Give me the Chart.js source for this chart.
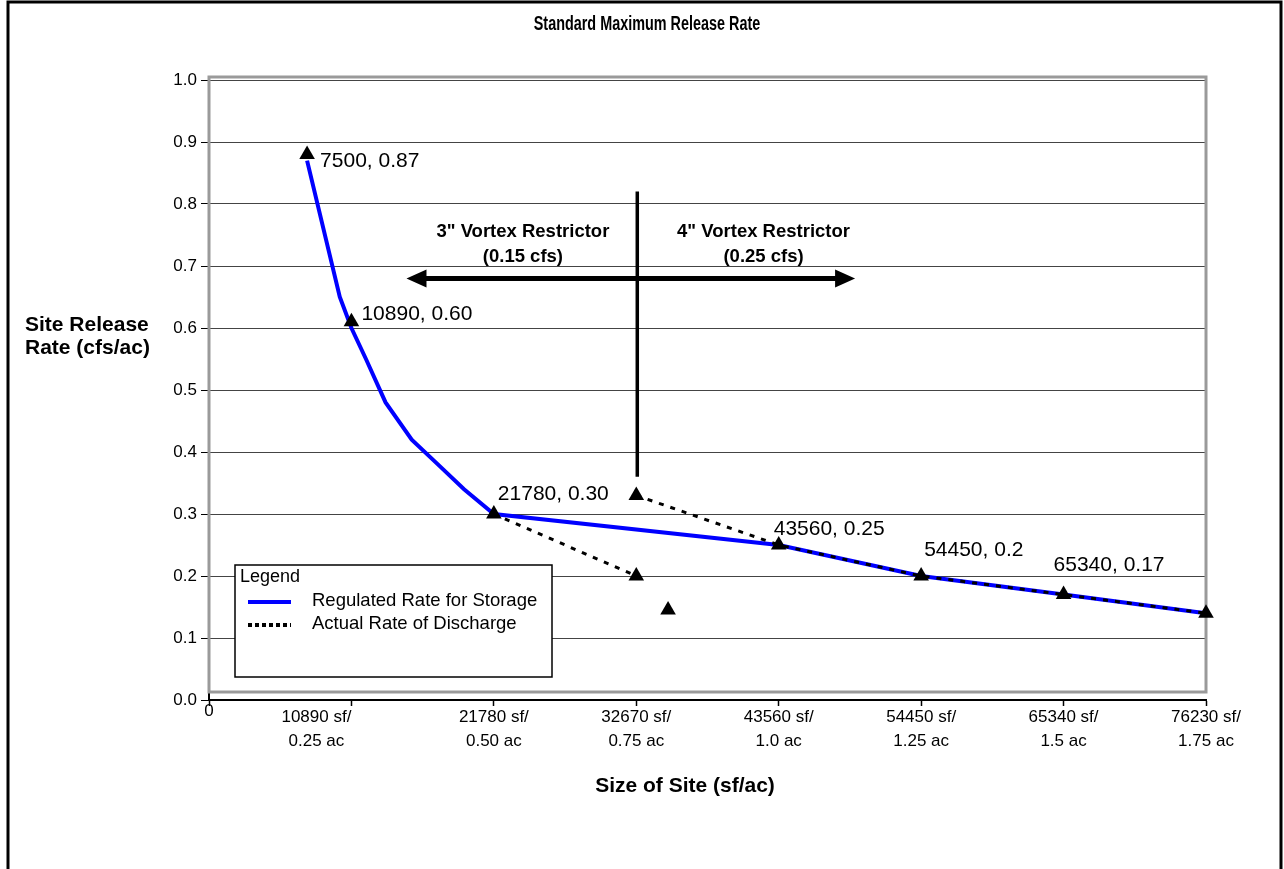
<!DOCTYPE html>
<html>
<head>
<meta charset="utf-8">
<title>Standard Maximum Release Rate</title>
<script src="https://cdn.jsdelivr.net/npm/chart.js@4.4.1/dist/chart.umd.min.js"></script>
<style>
  html, body { margin: 0; padding: 0; background: #fff; }
  #wrap { width: 1284px; height: 869px; }
</style>
</head>
<body>
<div id="wrap"><canvas id="releaseChart" width="1284" height="869"></canvas></div>
<script>
// Regulated rate for storage (blue curve)
const regSize = [7500, 10000, 10890, 12000, 13500, 15500, 17500, 19500, 21780, 43560, 54450, 65340, 76230];
const regRate = [0.87, 0.65, 0.60, 0.55, 0.48, 0.42, 0.38, 0.34, 0.30, 0.25, 0.20, 0.17, 0.14];

// Actual rate of discharge (dotted), null splits it in two pieces
const actSize = [21780, 32670, 32670, 32670, 43560, 54450, 65340, 76230];
const actRate = [0.30, 0.20, null, 0.33, 0.25, 0.20, 0.17, 0.14];

// Triangle markers
const markSize = [7500, 10890, 21780, 32670, 32670, 35100, 43560, 54450, 65340, 76230];
const markRate = [0.88, 0.61, 0.30, 0.33, 0.20, 0.145, 0.25, 0.20, 0.17, 0.14];

// Point labels
const labelSize = [7500, 10890, 21780, 43560, 54450, 65340];
const labelRate = [0.87, 0.60, 0.30, 0.25, 0.20, 0.17];
const labelText = ['7500, 0.87', '10890, 0.60', '21780, 0.30', '43560, 0.25', '54450, 0.2', '65340, 0.17'];

// Axis ticks
const xTicks = [0, 10890, 21780, 32670, 43560, 54450, 65340, 76230];
const xTickLabels = [['0'], ['10890 sf/', '0.25 ac'], ['21780 sf/', '0.50 ac'], ['32670 sf/', '0.75 ac'],
  ['43560 sf/', '1.0 ac'], ['54450 sf/', '1.25 ac'], ['65340 sf/', '1.5 ac'], ['76230 sf/', '1.75 ac']];
const yTicks = [0, 0.1, 0.2, 0.3, 0.4, 0.5, 0.6, 0.7, 0.8, 0.9, 1.0];
const yTickLabels = ['0.0', '0.1', '0.2', '0.3', '0.4', '0.5', '0.6', '0.7', '0.8', '0.9', '1.0'];

// Restrictor annotation
const dividerSize = 32670;
const dividerRates = [0.36, 0.82];
const arrowSizes = [15100, 49400];
const arrowRate = 0.68;
const regionSize = [24000, 42400];
const regionRate = 0.735;
const regionText = [['3" Vortex Restrictor', '(0.15 cfs)'], ['4" Vortex Restrictor', '(0.25 cfs)']];

// layout only: px offsets of texts
const labelOffset = [[13, 1], [10, -14], [4, -20], [-5, -16], [3, -26], [-10, -29]];
const xLabelShift = [0, -35, 0, 0, 0, 0, 0, 0];

const FONT = '"Liberation Sans", Arial, sans-serif';
Chart.defaults.font.family = FONT;
Chart.defaults.color = '#000';

const toPoints = (xs, ys) => xs.map((x, i) => ({ x: x, y: ys[i] }));

const decor = {
  id: 'decor',
  beforeDatasetsDraw(chart) {
    const { ctx, chartArea: a } = chart;
    ctx.save();
    ctx.strokeStyle = '#9a9a9a';
    ctx.lineWidth = 3;
    ctx.strokeRect(a.left, a.top - 3, a.right - a.left, a.bottom - a.top - 5);
    ctx.restore();
  },
  afterDatasetsDraw(chart) {
    const { ctx, chartArea: a } = chart;
    const xs = chart.scales.x, ys = chart.scales.y;
    ctx.save();

    // vertical divider
    const dx = xs.getPixelForValue(dividerSize) + 1;
    ctx.strokeStyle = '#000';
    ctx.lineWidth = 3.5;
    ctx.beginPath();
    ctx.moveTo(dx, ys.getPixelForValue(dividerRates[1]));
    ctx.lineTo(dx, ys.getPixelForValue(dividerRates[0]));
    ctx.stroke();

    // double arrow
    const ay = ys.getPixelForValue(arrowRate);
    const ax1 = xs.getPixelForValue(arrowSizes[0]);
    const ax2 = xs.getPixelForValue(arrowSizes[1]);
    const head = 20, hw = 9;
    ctx.lineWidth = 5;
    ctx.beginPath();
    ctx.moveTo(ax1 + head - 2, ay);
    ctx.lineTo(ax2 - head + 2, ay);
    ctx.stroke();
    ctx.fillStyle = '#000';
    ctx.beginPath();
    ctx.moveTo(ax1, ay); ctx.lineTo(ax1 + head, ay - hw); ctx.lineTo(ax1 + head, ay + hw); ctx.closePath();
    ctx.moveTo(ax2, ay); ctx.lineTo(ax2 - head, ay - hw); ctx.lineTo(ax2 - head, ay + hw); ctx.closePath();
    ctx.fill();

    // restrictor text
    ctx.font = 'bold 18.5px ' + FONT;
    ctx.textAlign = 'center';
    ctx.textBaseline = 'middle';
    regionText.forEach((lines, i) => {
      const cx = xs.getPixelForValue(regionSize[i]);
      const cy = ys.getPixelForValue(regionRate);
      ctx.fillText(lines[0], cx, cy - 12);
      ctx.fillText(lines[1], cx, cy + 13);
    });

    // point labels
    ctx.font = '21px ' + FONT;
    ctx.textAlign = 'left';
    labelText.forEach((t, i) => {
      const px = xs.getPixelForValue(labelSize[i]) + labelOffset[i][0];
      const py = ys.getPixelForValue(labelRate[i]) + labelOffset[i][1];
      ctx.fillText(t, px, py);
    });

    // legend box
    const lx = a.left + 26, ly = a.bottom - 135, lw = 317, lh = 112;
    ctx.fillStyle = '#fff';
    ctx.fillRect(lx, ly, lw, lh);
    ctx.strokeStyle = '#000';
    ctx.lineWidth = 1.5;
    ctx.strokeRect(lx, ly, lw, lh);
    ctx.fillStyle = '#000';
    ctx.font = '18px ' + FONT;
    ctx.fillText('Legend', lx + 5, ly + 12);
    const entries = [chart.data.datasets[2], chart.data.datasets[1]];
    ctx.font = '18.5px ' + FONT;
    entries.forEach((ds, i) => {
      const ey = ly + 37 + i * 23;
      ctx.strokeStyle = ds.borderColor;
      ctx.lineWidth = 4;
      ctx.setLineDash(ds.borderDash ? [4, 3] : []);
      ctx.beginPath();
      ctx.moveTo(lx + 13, ey);
      ctx.lineTo(lx + 56, ey);
      ctx.stroke();
      ctx.setLineDash([]);
      ctx.fillText(ds.label, lx + 77, ey - 1);
    });
    ctx.restore();
  },
  afterDraw(chart) {
    const { ctx, chartArea: a, height } = chart;
    const xs = chart.scales.x;
    ctx.save();
    // outer frame
    ctx.strokeStyle = '#000';
    ctx.lineWidth = 3;
    ctx.beginPath();
    ctx.moveTo(8, height);
    ctx.lineTo(8, 2);
    ctx.lineTo(1281, 2);
    ctx.lineTo(1281, height);
    ctx.stroke();

    ctx.fillStyle = '#000';
    ctx.textBaseline = 'middle';
    ctx.textAlign = 'center';

    // x tick labels (two lines each)
    ctx.font = '17px ' + FONT;
    xTickLabels.forEach((lines, i) => {
      const px = xs.getPixelForValue(xTicks[i]) + xLabelShift[i];
      const top = lines.length === 1 ? a.bottom + 11 : a.bottom + 17;
      lines.forEach((t, j) => ctx.fillText(t, px, top + j * 24));
    });

    // chart title (narrow)
    ctx.save();
    ctx.translate(647, 24);
    ctx.scale(0.72, 1);
    ctx.font = 'bold 20px ' + FONT;
    ctx.fillText('Standard Maximum Release Rate', 0, 0);
    ctx.restore();

    ctx.font = 'bold 21px ' + FONT;
    ctx.textAlign = 'left';
    ctx.fillText('Site Release', 25, 325);
    ctx.fillText('Rate (cfs/ac)', 25, 348);

    ctx.textAlign = 'center';
    ctx.fillText('Size of Site (sf/ac)', 685, 786);
    ctx.restore();
  }
};

const ctx = document.getElementById('releaseChart').getContext('2d');
new Chart(ctx, {
  type: 'line',
  data: {
    datasets: [
      {
        label: 'Markers',
        data: toPoints(markSize, markRate),
        showLine: false,
        pointStyle: 'triangle',
        pointRadius: 9,
        pointBackgroundColor: '#000',
        pointBorderColor: '#000',
        pointBorderWidth: 0,
        clip: false,
        order: 0
      },
      {
        label: 'Actual Rate of Discharge',
        data: toPoints(actSize, actRate),
        borderColor: '#000',
        borderWidth: 3,
        borderDash: [5, 7],
        pointRadius: 0,
        spanGaps: false,
        fill: false,
        order: 1
      },
      {
        label: 'Regulated Rate for Storage',
        data: toPoints(regSize, regRate),
        borderColor: '#0000ff',
        borderWidth: 4,
        pointRadius: 0,
        fill: false,
        order: 2
      }
    ]
  },
  options: {
    responsive: false,
    animation: false,
    devicePixelRatio: 1,
    layout: { padding: { left: 0, right: 78, top: 80, bottom: 0 } },
    plugins: {
      legend: { display: false },
      tooltip: { enabled: false },
      title: { display: false }
    },
    scales: {
      x: {
        type: 'linear',
        min: 0,
        max: 76230,
        afterBuildTicks: s => { s.ticks = xTicks.map(v => ({ value: v })); },
        afterFit: s => { s.height = 169; },
        ticks: { display: false },
        grid: { drawOnChartArea: false, tickLength: 6, tickColor: '#000', tickWidth: 1.5 },
        border: { color: '#000', width: 2 }
      },
      y: {
        min: 0,
        max: 1,
        afterBuildTicks: s => { s.ticks = yTicks.map(v => ({ value: v })); },
        afterFit: s => { s.width = 209; },
        ticks: {
          callback: (v, i) => yTickLabels[i],
          font: { size: 17 },
          padding: 4
        },
        grid: { color: '#444', lineWidth: 1, tickLength: 8, tickColor: '#000' },
        border: { color: '#000', width: 2 }
      }
    }
  },
  plugins: [decor]
});
</script>
</body>
</html>
